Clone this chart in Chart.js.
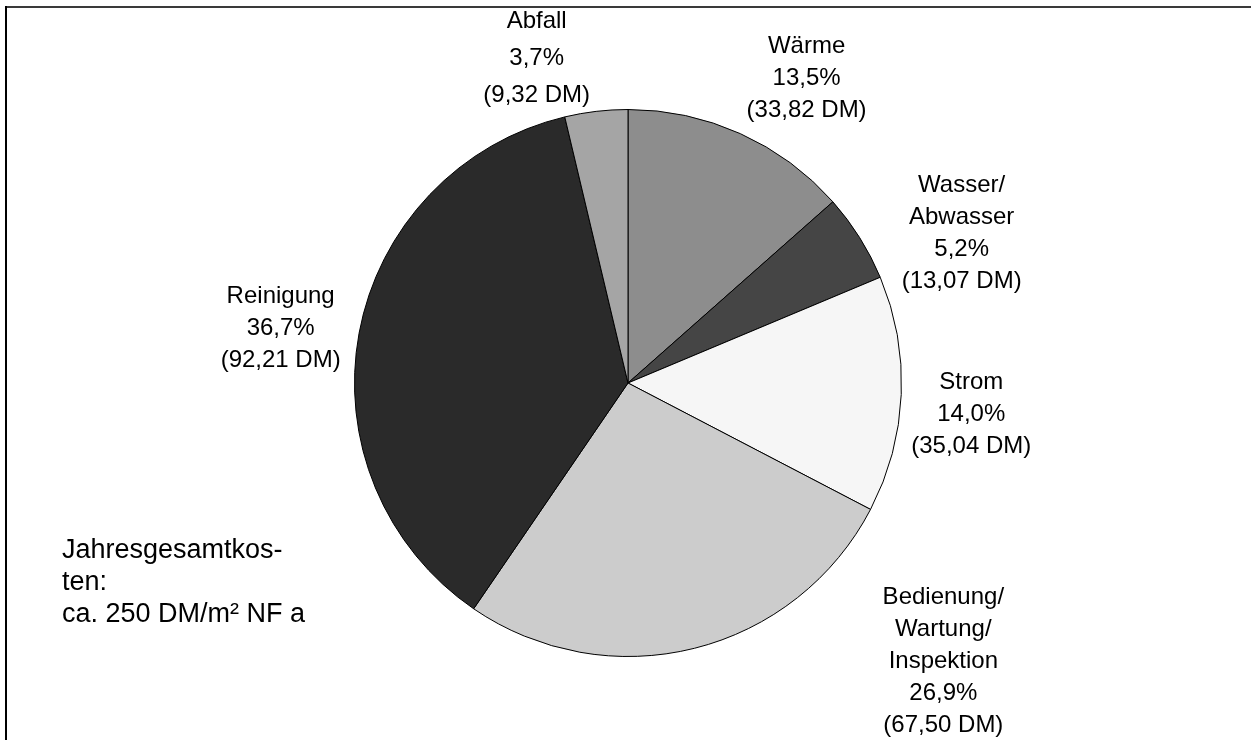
<!DOCTYPE html>
<html lang="de">
<head>
<meta charset="utf-8">
<title>Jahresgesamtkosten</title>
<script src="https://cdn.jsdelivr.net/npm/chart.js@4/dist/chart.umd.min.js"></script>
<style>
  html, body { margin: 0; padding: 0; background: #ffffff; }
  #wrap { width: 1251px; height: 740px; }
</style>
</head>
<body>
<div id="wrap"><canvas id="c" width="1251" height="740"></canvas></div>
<script>
// Kostenarten (im Uhrzeigersinn ab 12 Uhr) und Jahreskosten in DM/m² NF a
const categories = ['Wärme', 'Wasser/Abwasser', 'Strom', 'Bedienung/Wartung/Inspektion', 'Reinigung', 'Abfall'];
const costsDM = [33.82, 13.07, 35.04, 67.50, 92.21, 9.32];
const noteLines = ['Jahresgesamtkos-', 'ten:', 'ca. 250 DM/m² NF a'];

// Füllfarben der Segmente
const sliceColors = ['#8d8d8d', '#454545', '#f6f6f6', '#cccccc', '#2a2a2a', '#a5a5a5'];

// Lage der Beschriftungsblöcke relativ zum Kreismittelpunkt (in Radien) und Zeilenabstand
const labelPlacement = [
  { dx: 0.653, dy: -1.113, lh: 32 },
  { dx: 1.220, dy: -0.547, lh: 32 },
  { dx: 1.255, dy: 0.114, lh: 32 },
  { dx: 1.153, dy: 1.016, lh: 32 },
  { dx: -1.270, dy: -0.198, lh: 32 },
  { dx: -0.334, dy: -1.186, lh: 37 }
];

const total = costsDM.reduce((a, b) => a + b, 0);
const fmt = (v, d) => v.toFixed(d).replace('.', ',');

const labelFont = '24px "Liberation Sans", Arial, sans-serif';
const noteFont = '27px "Liberation Sans", Arial, sans-serif';

// Rahmenlinien oben und links
const framePlugin = {
  id: 'frame',
  beforeDraw(chart) {
    const ctx = chart.ctx;
    ctx.save();
    ctx.fillStyle = '#3a3a3a';
    ctx.fillRect(5, 6, chart.width - 5, 2);
    ctx.fillStyle = '#000000';
    ctx.fillRect(5, 6, 2, chart.height - 6);
    ctx.restore();
  }
};

// Segmentbeschriftungen: Name, Anteil in %, Betrag in DM
const sliceLabelPlugin = {
  id: 'sliceLabels',
  afterDatasetsDraw(chart) {
    const ctx = chart.ctx;
    const meta = chart.getDatasetMeta(0);
    ctx.save();
    ctx.font = labelFont;
    ctx.fillStyle = '#000000';
    ctx.textAlign = 'center';
    ctx.textBaseline = 'middle';
    meta.data.forEach((arc, i) => {
      const r = arc.outerRadius;
      const p = labelPlacement[i];
      const cx = arc.x + p.dx * r;
      const cy = arc.y + p.dy * r;
      const v = costsDM[i];
      const lines = categories[i].split(/(?<=\/)/);
      lines.push(fmt(v / total * 100, 1) + '%');
      lines.push('(' + fmt(v, 2) + ' DM)');
      const y0 = cy - (lines.length - 1) * p.lh / 2;
      lines.forEach((t, k) => ctx.fillText(t, cx, y0 + k * p.lh));
    });
    // Hinweis auf die Gesamtkosten
    ctx.font = noteFont;
    ctx.textAlign = 'left';
    noteLines.forEach((t, k) => ctx.fillText(t, 62, 551 + k * 32));
    ctx.restore();
  }
};

new Chart(document.getElementById('c'), {
  type: 'pie',
  data: {
    labels: categories,
    datasets: [{
      data: costsDM,
      backgroundColor: sliceColors,
      borderColor: '#000000',
      borderWidth: 1,
      borderAlign: 'center'
    }]
  },
  options: {
    responsive: false,
    animation: false,
    events: [],
    layout: { padding: { left: 353, right: 348, top: 109, bottom: 83 } },
    plugins: {
      legend: { display: false },
      tooltip: { enabled: false },
      title: { display: false }
    }
  },
  plugins: [framePlugin, sliceLabelPlugin]
});
</script>
</body>
</html>
